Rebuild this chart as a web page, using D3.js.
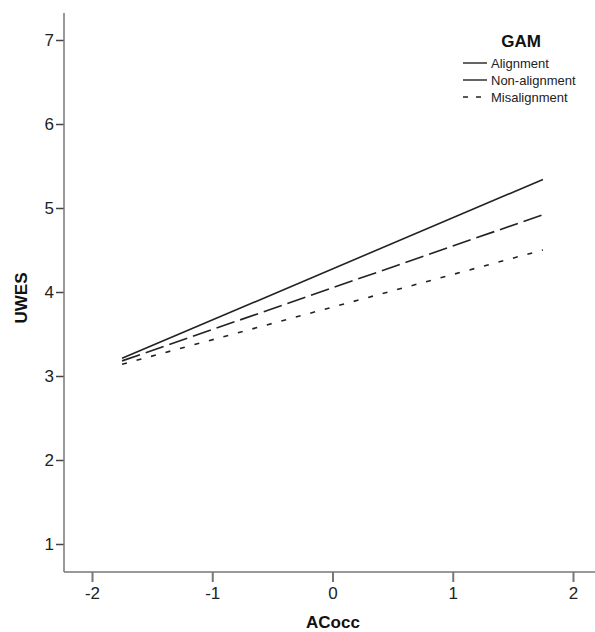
<!DOCTYPE html>
<html>
<head>
<meta charset="utf-8">
<script src="https://cdn.jsdelivr.net/npm/d3@7"></script>
<style>
  html, body { margin: 0; padding: 0; background: #fff; }
  text { font-family: "Liberation Sans", Arial, sans-serif; }
</style>
</head>
<body>
<svg id="chart" width="595" height="632"></svg>
<script>
// Data
const xEnds = [-1.75, 1.75];
const alignment = [3.21, 5.34];
const nonAlignment = [3.18, 4.92];
const misalignment = [3.14, 4.50];
const seriesNames = ["Alignment", "Non-alignment", "Misalignment"];
const xTicks = [-2, -1, 0, 1, 2];
const yTicks = [1, 2, 3, 4, 5, 6, 7];
const legendTitle = "GAM";
const xLabel = "ACocc";
const yLabel = "UWES";

const series = [
  { name: seriesNames[0], values: alignment, dash: null },
  { name: seriesNames[1], values: nonAlignment, dash: "19,6" },
  { name: seriesNames[2], values: misalignment, dash: "5,10" }
];

const svg = d3.select("#chart");
const x = d3.scaleLinear().domain([-2, 2]).range([92, 573]);
const y = d3.scaleLinear().domain([1, 7]).range([544, 40]);
const axisColor = "#777";
const intFmt = d => String(d);

// Axes
const xAxis = svg.append("g").attr("transform", "translate(0,572)")
  .call(d3.axisBottom(x).tickValues(xTicks).tickSize(10).tickSizeOuter(0).tickPadding(5)
        .tickFormat(intFmt));
xAxis.select(".domain").remove();
xAxis.append("line").attr("x1", 64).attr("x2", 595).attr("y1", 0).attr("y2", 0)
  .attr("stroke", axisColor).attr("stroke-width", 1.5);
xAxis.selectAll(".tick line").attr("stroke", axisColor).attr("stroke-width", 2);
xAxis.selectAll(".tick text").attr("fill", "#222").attr("font-size", 17)
  .attr("font-family", "Liberation Sans, Arial, sans-serif");

const yAxis = svg.append("g").attr("transform", "translate(64,0)")
  .call(d3.axisLeft(y).tickValues(yTicks).tickSize(8).tickSizeOuter(0).tickPadding(2)
        .tickFormat(intFmt));
yAxis.select(".domain").remove();
yAxis.append("line").attr("x1", 0).attr("x2", 0).attr("y1", 13).attr("y2", 572)
  .attr("stroke", axisColor).attr("stroke-width", 1.5);
yAxis.selectAll(".tick line").attr("stroke", "#444").attr("stroke-width", 1.5);
yAxis.selectAll(".tick text").attr("fill", "#222").attr("font-size", 17)
  .attr("font-family", "Liberation Sans, Arial, sans-serif");

// Axis labels
svg.append("text").attr("x", 333).attr("y", 628).attr("text-anchor", "middle")
  .attr("font-weight", "bold").attr("font-size", 17).attr("fill", "#111").text(xLabel);
svg.append("text").attr("transform", "translate(27,298) rotate(-90)").attr("text-anchor", "middle")
  .attr("font-weight", "bold").attr("font-size", 17).attr("fill", "#111").text(yLabel);

// Lines
const line = d3.line().x(d => x(d[0])).y(d => y(d[1]));
series.forEach(s => {
  svg.append("path")
    .datum(xEnds.map((xv, i) => [xv, s.values[i]]))
    .attr("d", line)
    .attr("fill", "none")
    .attr("stroke", "#222")
    .attr("stroke-width", 1.6)
    .attr("stroke-dasharray", s.dash);
});

// Legend
svg.append("text").attr("x", 521).attr("y", 47).attr("text-anchor", "middle")
  .attr("font-weight", "bold").attr("font-size", 17).attr("fill", "#111").text(legendTitle);
const legY = [63, 80, 97];
const legendDash = [null, null, "5,8"];
series.forEach((s, i) => {
  svg.append("line").attr("x1", 463).attr("x2", 487).attr("y1", legY[i]).attr("y2", legY[i])
    .attr("stroke", "#222").attr("stroke-width", 1.4).attr("stroke-dasharray", legendDash[i]);
  svg.append("text").attr("x", 491).attr("y", legY[i] + 4.5).attr("font-size", 13)
    .attr("fill", "#222").text(s.name);
});
</script>
</body>
</html>
